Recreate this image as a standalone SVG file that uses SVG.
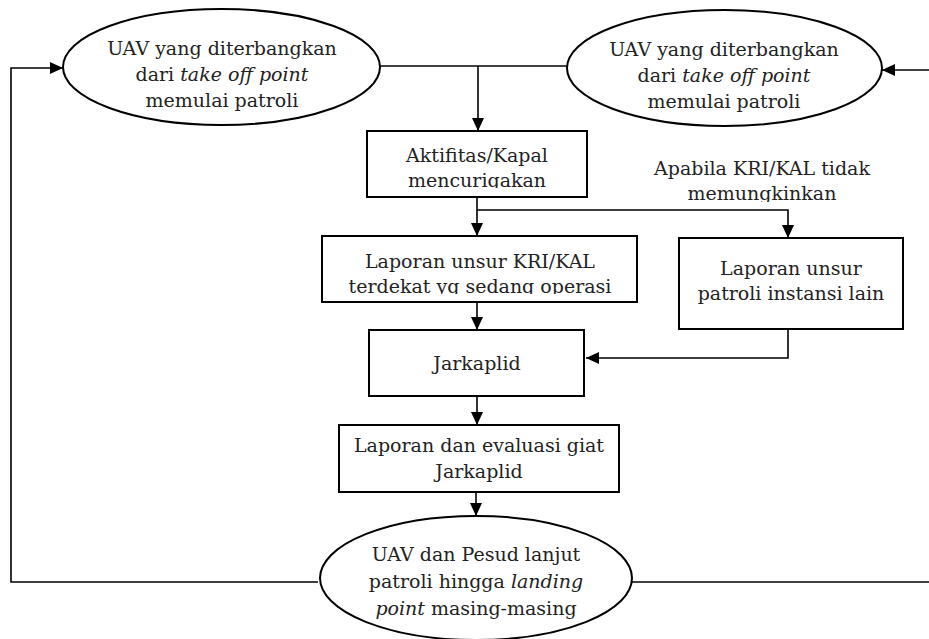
<svg xmlns="http://www.w3.org/2000/svg" width="929" height="639" viewBox="0 0 929 639">
<style>
.shape{fill:#fff;stroke:#000;stroke-width:2}
.conn{fill:none;stroke:#000;stroke-width:1.6}
text{font-family:"DejaVu Serif","Liberation Serif",serif;font-size:19px;fill:#222;text-anchor:middle}
.it{font-style:italic}
</style>
<defs>
<marker id="ah" markerUnits="userSpaceOnUse" markerWidth="13" markerHeight="12" refX="13" refY="6" orient="auto">
<path d="M0,0 L13,6 L0,12 Z" fill="#000"/>
</marker>
<clipPath id="c1"><rect x="367" y="131" width="220" height="57"/></clipPath>
<clipPath id="c2"><rect x="600" y="140" width="320" height="62"/></clipPath>
<clipPath id="c3"><rect x="322" y="236" width="315" height="58"/></clipPath>
</defs>
<g id="connectors">
<polyline class="conn" points="380,66 567,66"/>
<polyline class="conn" points="478,66 478,131" marker-end="url(#ah)"/>
<polyline class="conn" points="318,582 11,582 11,68 63,68" marker-end="url(#ah)"/>
<polyline class="conn" points="632,582 929,582"/>
<polyline class="conn" points="929,70 882,70" marker-end="url(#ah)"/>
<polyline class="conn" points="477,197 477,236" marker-end="url(#ah)"/>
<polyline class="conn" points="477,210 788,210 788,238" marker-end="url(#ah)"/>
<polyline class="conn" points="477,302 477,330" marker-end="url(#ah)"/>
<polyline class="conn" points="788,330 788,358 586,358" marker-end="url(#ah)"/>
<polyline class="conn" points="477,396 477,425" marker-end="url(#ah)"/>
<polyline class="conn" points="476,492 476,516" marker-end="url(#ah)"/>
</g>
<g id="start-left">
<ellipse class="shape" cx="221.5" cy="67" rx="158.5" ry="58"/>
<text x="222" y="55">UAV yang diterbangkan</text>
<text x="222" y="81">dari <tspan class="it">take off point</tspan></text>
<text x="222" y="107">memulai patroli</text>
</g>
<g id="start-right">
<ellipse class="shape" cx="724.5" cy="68" rx="157.5" ry="58"/>
<text x="724" y="56">UAV yang diterbangkan</text>
<text x="724" y="82">dari <tspan class="it">take off point</tspan></text>
<text x="724" y="108">memulai patroli</text>
</g>
<g id="aktifitas">
<rect class="shape" x="367" y="131" width="220" height="66"/>
<g clip-path="url(#c1)">
<text x="477" y="162">Aktifitas/Kapal</text>
<text x="477" y="187">mencurigakan</text>
</g>
</g>
<g id="label-apabila" clip-path="url(#c2)">
<text x="762" y="175">Apabila KRI/KAL tidak</text>
<text x="762" y="200">memungkinkan</text>
</g>
<g id="laporan-kri">
<rect class="shape" x="322" y="236" width="315" height="66"/>
<g clip-path="url(#c3)">
<text x="480" y="268">Laporan unsur KRI/KAL</text>
<text x="480" y="293">terdekat yg sedang operasi</text>
</g>
</g>
<g id="laporan-instansi">
<rect class="shape" x="679" y="238" width="224" height="91"/>
<text x="791" y="275">Laporan unsur</text>
<text x="791" y="300">patroli instansi lain</text>
</g>
<g id="jarkaplid">
<rect class="shape" x="369" y="330" width="215" height="66"/>
<text x="477" y="370">Jarkaplid</text>
</g>
<g id="evaluasi">
<rect class="shape" x="339" y="425" width="280" height="67"/>
<text x="479" y="452">Laporan dan evaluasi giat</text>
<text x="479" y="478">Jarkaplid</text>
</g>
<g id="end">
<ellipse class="shape" cx="476" cy="578" rx="156" ry="62"/>
<text x="476" y="561">UAV dan Pesud lanjut</text>
<text x="476" y="588">patroli hingga <tspan class="it">landing</tspan></text>
<text x="476" y="615"><tspan class="it">point</tspan> masing-masing</text>
</g>
</svg>
